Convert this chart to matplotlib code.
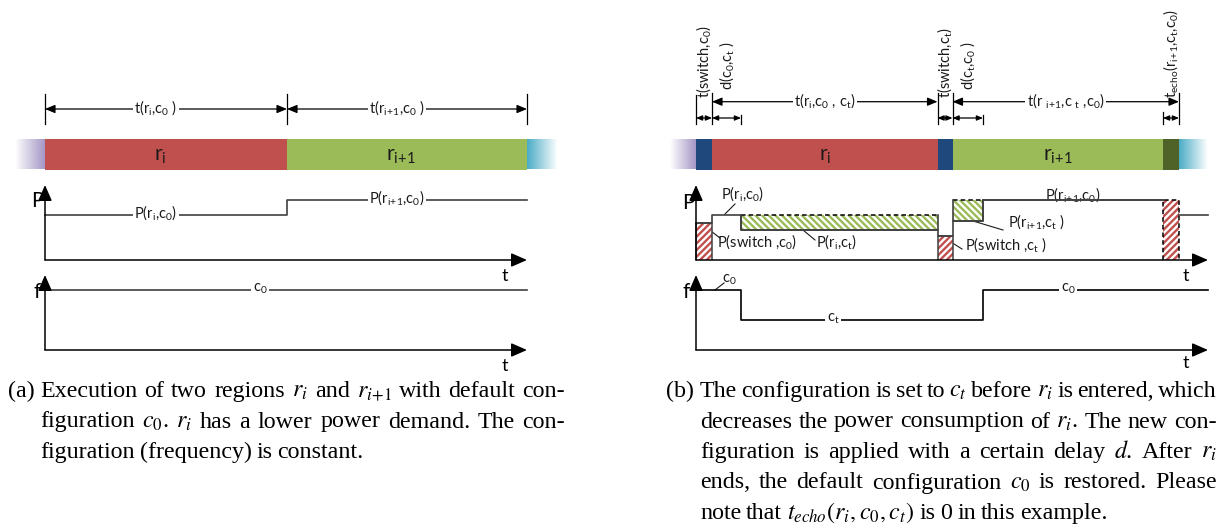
import re
import numpy as np
import matplotlib
matplotlib.use('Agg')
import matplotlib.pyplot as plt
from matplotlib.transforms import blended_transform_factory
from matplotlib.colors import to_rgb

plt.rcParams['font.family'] = ['Lato', 'DejaVu Sans']
plt.rcParams['hatch.linewidth'] = 1.7

# ---------------- data (time units, power / frequency levels 0..100) ----------------
# (a) both regions run with the default configuration c0
a_region_names = ['r_i', 'r_{i+1}']
a_bounds = [0, 242, 482]
a_power = [60, 80]
a_power_labels = ['P(r_i,c_0)', 'P(r_{i+1},c_0)']
a_freq = [80, 80]
a_freq_label = 'c_0'
a_dim_labels = ['t(r_i,c_0 )', 't(r_{i+1},c_0 )']

# (b) configuration c_t applied to r_i
b_seg_names = ['', 'r_i', '', 'r_{i+1}', '']
b_seg_kinds = ['switch', 'region', 'switch', 'region', 'echo']
b_seg_bounds = [0, 16, 241.5, 256.5, 467, 483]
b_power_t = [0, 16, 45, 241.5, 256.5, 287, 467, 483, 512]
b_power_actual = [50, 60, 40, 32, 52, 80, 80, 60]
b_power_default = [50, 60, 60, 32, 80, 80, 80, 60]
b_freq_t = [0, 45, 287, 512]
b_freq = [80, 40, 80]
b_short_spans = [(0, 16), (16, 45), (241.5, 256.5), (256.5, 287), (467, 483)]
b_short_labels = ['t(switch,c_0)', 'd(c_0,c_t )', 't(switch,c_t)',
                  'd(c_t,c_0 )', 't_{echo}(r_{i+1},c_t,c_0)']
b_long_spans = [(16, 241.5), (256.5, 483)]
b_long_labels = ['t(r_i,c_0 , c_t)', 't(r _{i+1},c _t ,c_0)']

cap_a = ["Execution of two regions $r_i$ and $r_{i+1}$ with default con-",
         "figuration $c_0$.  $r_i$ has a lower power demand.  The con-",
         "figuration (frequency) is constant."]
cap_b = ["The configuration is set to $c_t$ before $r_i$ is entered, which",
         "decreases the power consumption of $r_i$.  The new con-",
         "figuration is applied with a certain delay $d$.  After $r_i$",
         "ends, the default configuration $c_0$ is restored.  Please",
         "note that $t_{echo}(r_i, c_0, c_t)$ is 0 in this example."]

# ---------------- styles ----------------
RED, GREEN, BLUE, OLIVE = '#c0504d', '#9bbb59', '#1f497d', '#4f6228'
PURPLE, CYAN = '#a597c6', '#4bacc6'
LINE = '#404040'
KIND_COLOR = {'switch': BLUE, 'echo': OLIVE}

W, H = 1231, 530
fig = plt.figure(figsize=(W / 100, H / 100), dpi=100)
canvas = fig.add_axes([0, 0, 1, 1])
canvas.set_xlim(0, W)
canvas.set_ylim(H, 0)
canvas.axis('off')

BAR_ROW = (139, 169.5)
P_ROW = (185, 260)
F_ROW = (275, 350)


def sub_axes(px0, px1, row, origin, ylim):
    top, bot = row
    ax = fig.add_axes([px0 / W, 1 - bot / H, (px1 - px0) / W, (bot - top) / H])
    ax.set_autoscale_on(False)
    ax.set_xlim(px0 - origin, px1 - origin)
    ax.set_ylim(*ylim)
    ax.axis('off')
    ax.patch.set_visible(False)
    return ax


def m(s):
    """plain text with upright subscripts: 'r_{i+1}' -> r$_{i+1}$"""
    def rep(mo):
        sub = mo.group(1).replace('+', r'\!+\!')
        return r'$\mathregular{_' + sub + '}$'
    return re.sub(r'_(\{[^}]*\}|.)', rep, s)


def fade(ax, t0, t1, color, rising):
    rgb = np.array(to_rgb(color))
    n = 64
    img = np.zeros((1, n, 4))
    img[..., :3] = rgb
    img[..., 3] = np.linspace(0, 1, n) if rising else np.linspace(1, 0, n)
    ax.imshow(img, extent=[t0, t1, 0, 1], aspect='auto', interpolation='bilinear')


def axis_arrows(ax, tmax):
    kw = dict(arrowstyle='-|>,head_length=0.8,head_width=0.35', color='black', lw=1.1,
              shrinkA=0, shrinkB=0, mutation_scale=12)
    ax.annotate('', xy=(0, 100), xytext=(0, 0), arrowprops=kw, annotation_clip=False)
    ax.annotate('', xy=(tmax, 0), xytext=(0, 0), arrowprops=kw, annotation_clip=False)


def dim_arrow(tr, t0, t1, y, ms):
    canvas.annotate('', xy=(t1, y), xytext=(t0, y), xycoords=tr, textcoords=tr,
                    arrowprops=dict(arrowstyle='<|-|>,head_length=0.6,head_width=0.25',
                                    color='black', lw=0.9, shrinkA=0, shrinkB=0,
                                    mutation_scale=ms), annotation_clip=False)


def vline(tr, t, y0, y1):
    canvas.plot([t, t], [y0, y1], color='black', lw=0.9, transform=tr, clip_on=False)


LBL = dict(fontsize=10.5, color='#1a1a1a')
WHITE = dict(facecolor='white', edgecolor='none', pad=1.0)

# =============================== panel (a) ===============================
oa = 45
bar_a = sub_axes(0, 615, BAR_ROW, oa, (0, 1))
bar_a.bar(a_bounds[:-1], 1, width=np.diff(a_bounds), align='edge', color=[RED, GREEN], linewidth=0)
fade(bar_a, -30, 0, PURPLE, True)
fade(bar_a, a_bounds[-1], a_bounds[-1] + 31, CYAN, False)
for s, e, n in zip(a_bounds[:-1], a_bounds[1:], a_region_names):
    bar_a.text((s + e) / 2 - 6, 0.45, m(n), ha='center', va='center', fontsize=15, color='#1a1a1a')

tra = blended_transform_factory(bar_a.transData, canvas.transData)
for t in a_bounds:
    vline(tra, t, 94, 124)
for s, e, lab in zip(a_bounds[:-1], a_bounds[1:], a_dim_labels):
    dim_arrow(tra, s, e, 109, 10)
    canvas.text((s + e) / 2 - 10, 108, m(lab), transform=tra, ha='center', va='center', bbox=WHITE, **LBL)

pa = sub_axes(0, 615, P_ROW, oa, (0, 100))
pa.step(a_bounds, a_power + [a_power[-1]], where='post', color=LINE, lw=1.2)
axis_arrows(pa, a_bounds[-1])
for s, e, p, lab in zip(a_bounds[:-1], a_bounds[1:], a_power, a_power_labels):
    pa.text((s + e) / 2 - 10, p + 3, m(lab), ha='center', va='center', bbox=WHITE, **LBL)
canvas.text(37, 201, 'P', ha='center', va='center', fontsize=15)
canvas.text(505, 276, 't', ha='center', va='center', fontsize=13)

fa = sub_axes(0, 615, F_ROW, oa, (0, 100))
fa.step(a_bounds, a_freq + [a_freq[-1]], where='post', color=LINE, lw=1.2)
axis_arrows(fa, a_bounds[-1])
fa.text(215, a_freq[0] + 2, m(a_freq_label), ha='center', va='center', bbox=WHITE, **LBL)
canvas.text(37, 292, 'f', ha='center', va='center', fontsize=15)
canvas.text(505, 366, 't', ha='center', va='center', fontsize=13)

# =============================== panel (b) ===============================
ob = 696
bar_b = sub_axes(615, 1231, BAR_ROW, ob, (0, 1))
seg_colors = []
reg_cols = iter([RED, GREEN])
for k in b_seg_kinds:
    seg_colors.append(next(reg_cols) if k == 'region' else KIND_COLOR[k])
bar_b.bar(b_seg_bounds[:-1], 1, width=np.diff(b_seg_bounds), align='edge', color=seg_colors, linewidth=0)
fade(bar_b, -26, 0, PURPLE, True)
fade(bar_b, b_seg_bounds[-1], b_seg_bounds[-1] + 29, CYAN, False)
for s, e, n in zip(b_seg_bounds[:-1], b_seg_bounds[1:], b_seg_names):
    if n:
        bar_b.text((s + e) / 2, 0.45, m(n), ha='center', va='center', fontsize=15, color='#1a1a1a')

trb = blended_transform_factory(bar_b.transData, canvas.transData)
tops = {0: 95, 16: 93, 45: 115, 241.5: 93, 256.5: 93, 287: 115, 467: 112, 483: 93}
for t, y0 in tops.items():
    vline(trb, t, y0, 124)
for (s, e), lab in zip(b_short_spans, b_short_labels):
    dim_arrow(trb, s, e, 118, 6)
    yb = 90 if lab.startswith('d') else 98
    canvas.text((s + e) / 2, yb, m(lab), transform=trb, rotation=90, ha='center', va='bottom', **LBL)
for (s, e), lab in zip(b_long_spans, b_long_labels):
    dim_arrow(trb, s, e, 101.7, 10)
    canvas.text((s + e) / 2, 100.5, m(lab), transform=trb, ha='center', va='center', bbox=WHITE, **LBL)

pb = sub_axes(615, 1231, P_ROW, ob, (0, 100))
starts, ends = b_power_t[:-1], b_power_t[1:]
for s, e, act, dft, kind in zip(starts, ends, b_power_actual, b_power_default,
                                ['switch', 'r', 'r', 'switch', 'r', 'r', 'echo', 'r']):
    if kind in ('switch', 'echo'):
        top = act
        pb.bar(s, top, width=e - s, bottom=0, align='edge', color='white', edgecolor=RED,
               hatch='/////', linewidth=0)
        ls = '-' if kind == 'switch' else (0, (3, 2))
        col = LINE if kind == 'switch' else 'black'
        pb.plot([s, s, e, e], [0, top, top, 0], color=col, lw=1.1, ls=ls)
    elif dft > act:
        pb.bar(s, dft - act, width=e - s, bottom=act, align='edge', color='white', edgecolor=GREEN,
               hatch='\\\\\\\\\\', linewidth=0)
        pb.plot([s, e], [dft, dft], color='black', lw=1.1, ls=(0, (3, 2)))
        pb.plot([s, s, e, e], [dft, act, act, dft], color=LINE, lw=1.2)
pb.step(b_power_t[:7], b_power_actual[:6] + [b_power_actual[5]], where='post', color=LINE, lw=1.2)
pb.plot([b_power_t[7], b_power_t[8]], [b_power_actual[7]] * 2, color=LINE, lw=1.2)
pb.plot([b_power_t[5], b_power_t[6]], [b_power_actual[5]] * 2, color=LINE, lw=1.2)
axis_arrows(pb, b_power_t[-1])
canvas.text(688, 203, 'P', ha='center', va='center', fontsize=15)
canvas.text(1186, 276, 't', ha='center', va='center', fontsize=13)


def leader(x0, y0, x1, y1):
    canvas.plot([x0, x1], [y0, y1], color='#1a1a1a', lw=0.8)


canvas.text(743, 194, m('P(r_i,c_0)'), ha='center', va='center', **LBL)
leader(725, 214, 735, 204)
canvas.text(757, 242, m('P(switch ,c_0)'), ha='center', va='center', **LBL)
leader(703, 225, 720, 238)
canvas.text(836, 242, m('P(r_i,c_t)'), ha='center', va='center', **LBL)
leader(803, 230, 815, 240)
canvas.text(1073, 195, m('P(r_{i+1},c_0)'), ha='center', va='center', bbox=WHITE, **LBL)
canvas.text(1037, 222, m('P(r_{i+1},c_t )'), ha='center', va='center', **LBL)
leader(973, 221, 1003, 230)
canvas.text(1006, 245, m('P(switch ,c_t )'), ha='center', va='center', **LBL)
leader(943, 237, 962, 249)

fb = sub_axes(615, 1231, F_ROW, ob, (0, 100))
fb.step(b_freq_t, b_freq + [b_freq[-1]], where='post', color='black', lw=1.2)
axis_arrows(fb, b_freq_t[-1])
canvas.text(686, 292, 'f', ha='center', va='center', fontsize=15)
canvas.text(1186, 363, 't', ha='center', va='center', fontsize=13)
canvas.text(729, 280, m('c_0'), ha='center', va='center', **LBL)
leader(715, 290, 724, 283)
fb.text(137, b_freq[1] + 2, m('c_t'), ha='center', va='center', bbox=WHITE, **LBL)
fb.text(372, b_freq[2] + 2, m('c_0'), ha='center', va='center', bbox=WHITE, **LBL)

# =============================== captions ===============================
CAP = dict(fontfamily='Liberation Serif', fontsize=17.3, math_fontfamily='stix', color='black')
renderer = fig.canvas.get_renderer()


def tokens(line):
    out, cur, inmath = [], '', False
    for ch in line:
        if ch == '$':
            inmath = not inmath
        if ch == ' ' and not inmath:
            if cur:
                out.append(cur)
            cur = ''
        else:
            cur += ch
    if cur:
        out.append(cur)
    return out


def tex(word):
    # script-style '+' without binary-operator spacing, as TeX sets it
    return word.replace('{i+1}', r'{i\!+\!1}')


def place(line, x0, x1, y, justify):
    words = tokens(line)
    texts = [canvas.text(0, y, tex(w), ha='left', va='baseline', **CAP) for w in words]
    widths = [t.get_window_extent(renderer).width for t in texts]
    if justify and len(words) > 1:
        gap = (x1 - x0 - sum(widths)) / (len(words) - 1)
    else:
        gap = 5.0
    x = x0
    for t, w in zip(texts, widths):
        t.set_x(x)
        x += w + gap


def caption(label, lines, xl, x0, x1, y0):
    canvas.text(xl, y0, label, ha='left', va='baseline', **CAP)
    for i, line in enumerate(lines):
        place(line, x0, x1, y0 + 30.5 * i, i < len(lines) - 1)


caption('(a)', cap_a, 8, 40, 565, 397)
caption('(b)', cap_b, 666, 700, 1217, 397)

fig.savefig('out.png', dpi=100)
